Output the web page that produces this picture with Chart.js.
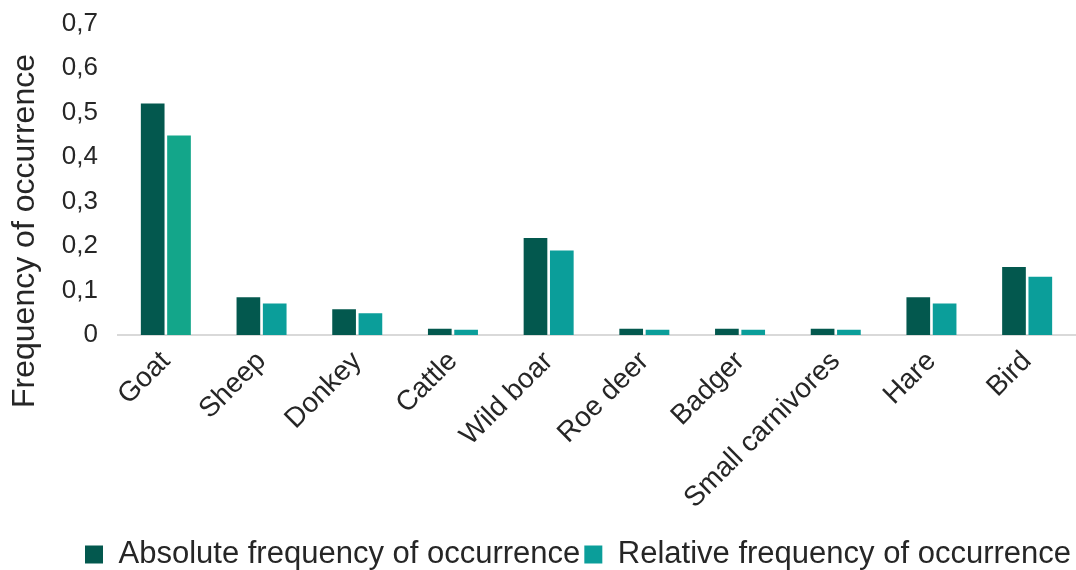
<!DOCTYPE html>
<html>
<head>
<meta charset="utf-8">
<script src="https://cdn.jsdelivr.net/npm/chart.js@4/dist/chart.umd.min.js"></script>
<style>
  body { margin: 0; background: #fff; }
  canvas { display: block; }
</style>
</head>
<body>
<canvas id="chart" width="1076" height="570"></canvas>
<script>
'use strict';

const categories = ['Goat', 'Sheep', 'Donkey', 'Cattle', 'Wild boar', 'Roe deer', 'Badger', 'Small carnivores', 'Hare', 'Bird'];
const absoluteFreq = [0.52, 0.085, 0.058, 0.014, 0.218, 0.014, 0.014, 0.014, 0.085, 0.153];
const relativeFreq = [0.448, 0.071, 0.049, 0.012, 0.19, 0.012, 0.012, 0.012, 0.071, 0.131];
const seriesNames = ['Absolute frequency of occurrence', 'Relative frequency of occurrence'];
const yTitle = 'Frequency of occurrence';

const darkTeal = '#03584e';
const teal = '#0b9e9a';
const goatGreen = '#13a68a';

const fontFamily = '"Liberation Sans", Arial, sans-serif';
const textColor = '#262626';

const relColors = categories.map((c, i) => (i === 0 ? goatGreen : teal));

// y title drawn by hand: Excel centres it a bit lower than the plot area
const yTitlePlugin = {
    id: 'yTitle',
    afterDraw(chart) {
        const ctx = chart.ctx;
        ctx.save();
        ctx.translate(25, 231);
        ctx.rotate(-Math.PI / 2);
        ctx.textAlign = 'center';
        ctx.textBaseline = 'middle';
        ctx.fillStyle = textColor;
        ctx.font = '32px ' + fontFamily;
        ctx.fillText(yTitle, 0, 0);
        ctx.restore();
    },
};

new Chart(document.getElementById('chart').getContext('2d'), {
    type: 'bar',
    data: {
        labels: categories,
        datasets: [
            {
                label: seriesNames[0],
                data: absoluteFreq,
                backgroundColor: darkTeal,
                barPercentage: 0.9,
                categoryPercentage: 0.55,
            },
            {
                label: seriesNames[1],
                data: relativeFreq,
                backgroundColor: relColors,
                barPercentage: 0.9,
                categoryPercentage: 0.55,
            },
        ],
    },
    plugins: [yTitlePlugin],
    options: {
        responsive: false,
        animation: false,
        layout: { padding: { top: 0, left: 0, right: 1, bottom: -10 } },
        plugins: {
            tooltip: { enabled: false },
            legend: {
                position: 'bottom',
                align: 'end',
                labels: {
                    color: textColor,
                    font: { family: fontFamily, size: 31, lineHeight: 0.7 },
                    boxWidth: 18,
                    boxHeight: 18,
                    padding: 4,
                    generateLabels: (chart) => chart.data.datasets.map((ds, i) => ({
                        text: ds.label,
                        fillStyle: i === 0 ? darkTeal : teal,
                        strokeStyle: i === 0 ? darkTeal : teal,
                        lineWidth: 0,
                        datasetIndex: i,
                        fontColor: textColor,
                    })),
                },
            },
        },
        scales: {
            x: {
                grid: { display: false },
                border: { display: true, color: '#d9d9d9', width: 2 },
                ticks: {
                    color: textColor,
                    font: { family: fontFamily, size: 28 },
                    minRotation: 45,
                    maxRotation: 45,
                    padding: 2,
                },
                afterFit: (scale) => { scale.height = 200; },
            },
            y: {
                min: 0,
                max: 0.7,
                grid: { display: false },
                border: { display: false },
                ticks: {
                    stepSize: 0.1,
                    color: textColor,
                    padding: 12,
                    font: { family: fontFamily, size: 26, lineHeight: 0.88 },
                    callback: (v) => String(Math.round(v * 10) / 10).replace('.', ','),
                },
                afterFit: (scale) => { scale.width = 118; },
            },
        },
    },
});
</script>
</body>
</html>
